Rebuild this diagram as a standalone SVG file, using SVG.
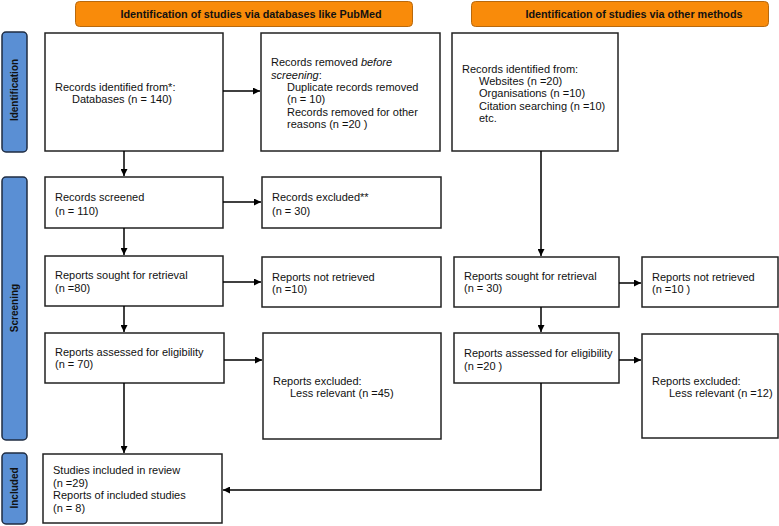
<svg xmlns="http://www.w3.org/2000/svg" width="779" height="526" viewBox="0 0 779 526">
<defs>
<marker id="ah" viewBox="0 0 10 10" refX="10" refY="5" markerWidth="7" markerHeight="7" markerUnits="userSpaceOnUse" orient="auto">
<path d="M0,0 L10,5 L0,10 z" fill="#000"/>
</marker>
<style>
.box{fill:#fff;stroke:#222;stroke-width:1.5}
.hdr{fill:#f98b0a;stroke:#b8690e;stroke-width:1}
.side{fill:#5a8fd4;stroke:#1f2c42;stroke-width:1.5}
.t{font-family:"Liberation Sans",Arial,sans-serif;font-size:11px;fill:#111}
.h{font-family:"Liberation Sans",Arial,sans-serif;font-size:10.8px;font-weight:bold;fill:#111;text-anchor:middle}
.s{font-family:"Liberation Sans",Arial,sans-serif;font-size:10px;font-weight:bold;fill:#111;text-anchor:middle}
.c{fill:none;stroke:#000;stroke-width:1.5}
</style>
</defs>
<rect width="779" height="526" fill="#fff"/>
<g id="header-db"><rect class="hdr" x="75.5" y="1.5" width="337" height="25" rx="4"/><text class="h" x="251" y="17.5">Identification of studies via databases like PubMed</text></g>
<g id="header-other"><rect class="hdr" x="471.5" y="1.5" width="297" height="25" rx="4"/><text class="h" x="634" y="17.5">Identification of studies via other methods</text></g>
<g id="side-identification"><rect class="side" x="2" y="32" width="25" height="120" rx="4"/><text class="s" transform="translate(18,90) rotate(-90)">Identification</text></g>
<g id="side-screening"><rect class="side" x="2" y="177" width="25" height="263" rx="4"/><text class="s" transform="translate(18,308) rotate(-90)">Screening</text></g>
<g id="side-included"><rect class="side" x="2" y="453" width="25" height="71" rx="4"/><text class="s" transform="translate(18,488) rotate(-90)">Included</text></g>

<g id="records-identified"><rect class="box" x="45" y="33" width="178" height="118"/><text class="t" x="55" y="91">Records identified from*:</text><text class="t" x="72" y="103">Databases (n = 140)</text></g>
<g id="records-removed"><rect class="box" x="261" y="33" width="179" height="118"/><text class="t" x="271" y="66">Records removed <tspan font-style="italic">before</tspan></text><text class="t" x="271" y="79"><tspan font-style="italic">screening</tspan>:</text><text class="t" x="287" y="91">Duplicate records removed</text><text class="t" x="287" y="103">(n = 10)</text><text class="t" x="287" y="116">Records removed for other</text><text class="t" x="287" y="128">reasons (n =20 )</text></g>
<g id="other-identified"><rect class="box" x="452" y="33" width="166" height="118"/><text class="t" x="462" y="73">Records identified from:</text><text class="t" x="479" y="85">Websites (n =20)</text><text class="t" x="479" y="97">Organisations (n =10)</text><text class="t" x="479" y="110">Citation searching (n =10)</text><text class="t" x="479" y="122">etc.</text></g>

<g id="records-screened"><rect class="box" x="45" y="177" width="178" height="51"/><text class="t" x="55" y="201">Records screened</text><text class="t" x="55" y="215">(n = 110)</text></g>
<g id="records-excluded"><rect class="box" x="262" y="177" width="179" height="51"/><text class="t" x="272" y="201">Records excluded**</text><text class="t" x="272" y="215">(n = 30)</text></g>

<g id="sought-db"><rect class="box" x="45" y="256" width="178" height="50"/><text class="t" x="55" y="279">Reports sought for retrieval</text><text class="t" x="55" y="292">(n =80)</text></g>
<g id="not-retrieved-db"><rect class="box" x="262" y="257" width="179" height="50"/><text class="t" x="272" y="281">Reports not retrieved</text><text class="t" x="272" y="293">(n =10)</text></g>
<g id="sought-other"><rect class="box" x="454" y="257" width="165" height="50"/><text class="t" x="464" y="280">Reports sought for retrieval</text><text class="t" x="464" y="292">(n = 30)</text></g>
<g id="not-retrieved-other"><rect class="box" x="642" y="257" width="136" height="50"/><text class="t" x="652" y="281">Reports not retrieved</text><text class="t" x="652" y="293">(n =10 )</text></g>

<g id="assessed-db"><rect class="box" x="45" y="333" width="179" height="50"/><text class="t" x="55" y="356">Reports assessed for eligibility</text><text class="t" x="55" y="368">(n = 70)</text></g>
<g id="excluded-db"><rect class="box" x="263" y="333" width="178" height="106"/><text class="t" x="273" y="385">Reports excluded:</text><text class="t" x="290" y="397">Less relevant (n =45)</text></g>
<g id="assessed-other"><rect class="box" x="454" y="333" width="165" height="50"/><text class="t" x="464" y="357">Reports assessed for eligibility</text><text class="t" x="464" y="370">(n =20 )</text></g>
<g id="excluded-other"><rect class="box" x="642" y="334" width="136" height="104"/><text class="t" x="652" y="385">Reports excluded:</text><text class="t" x="669" y="397">Less relevant (n =12)</text></g>

<g id="included"><rect class="box" x="43" y="454" width="179" height="69"/><text class="t" x="53" y="474">Studies included in review</text><text class="t" x="53" y="487">(n =29)</text><text class="t" x="53" y="499">Reports of included studies</text><text class="t" x="53" y="512">(n = 8)</text></g>

<g id="connectors">
<line class="c" x1="223" y1="91" x2="260" y2="91" marker-end="url(#ah)"/>
<line class="c" x1="124" y1="151" x2="124" y2="176" marker-end="url(#ah)"/>
<line class="c" x1="223" y1="202" x2="261" y2="202" marker-end="url(#ah)"/>
<line class="c" x1="124" y1="228" x2="124" y2="255" marker-end="url(#ah)"/>
<line class="c" x1="223" y1="282" x2="261" y2="282" marker-end="url(#ah)"/>
<line class="c" x1="124" y1="306" x2="124" y2="332" marker-end="url(#ah)"/>
<line class="c" x1="224" y1="360" x2="262" y2="360" marker-end="url(#ah)"/>
<line class="c" x1="124" y1="383" x2="124" y2="453" marker-end="url(#ah)"/>
<line class="c" x1="541" y1="151" x2="541" y2="256" marker-end="url(#ah)"/>
<line class="c" x1="619" y1="283" x2="641" y2="283" marker-end="url(#ah)"/>
<line class="c" x1="541" y1="307" x2="541" y2="332" marker-end="url(#ah)"/>
<line class="c" x1="619" y1="360" x2="641" y2="360" marker-end="url(#ah)"/>
<polyline class="c" points="541,383 541,490 223,490" marker-end="url(#ah)"/>
</g>
</svg>
